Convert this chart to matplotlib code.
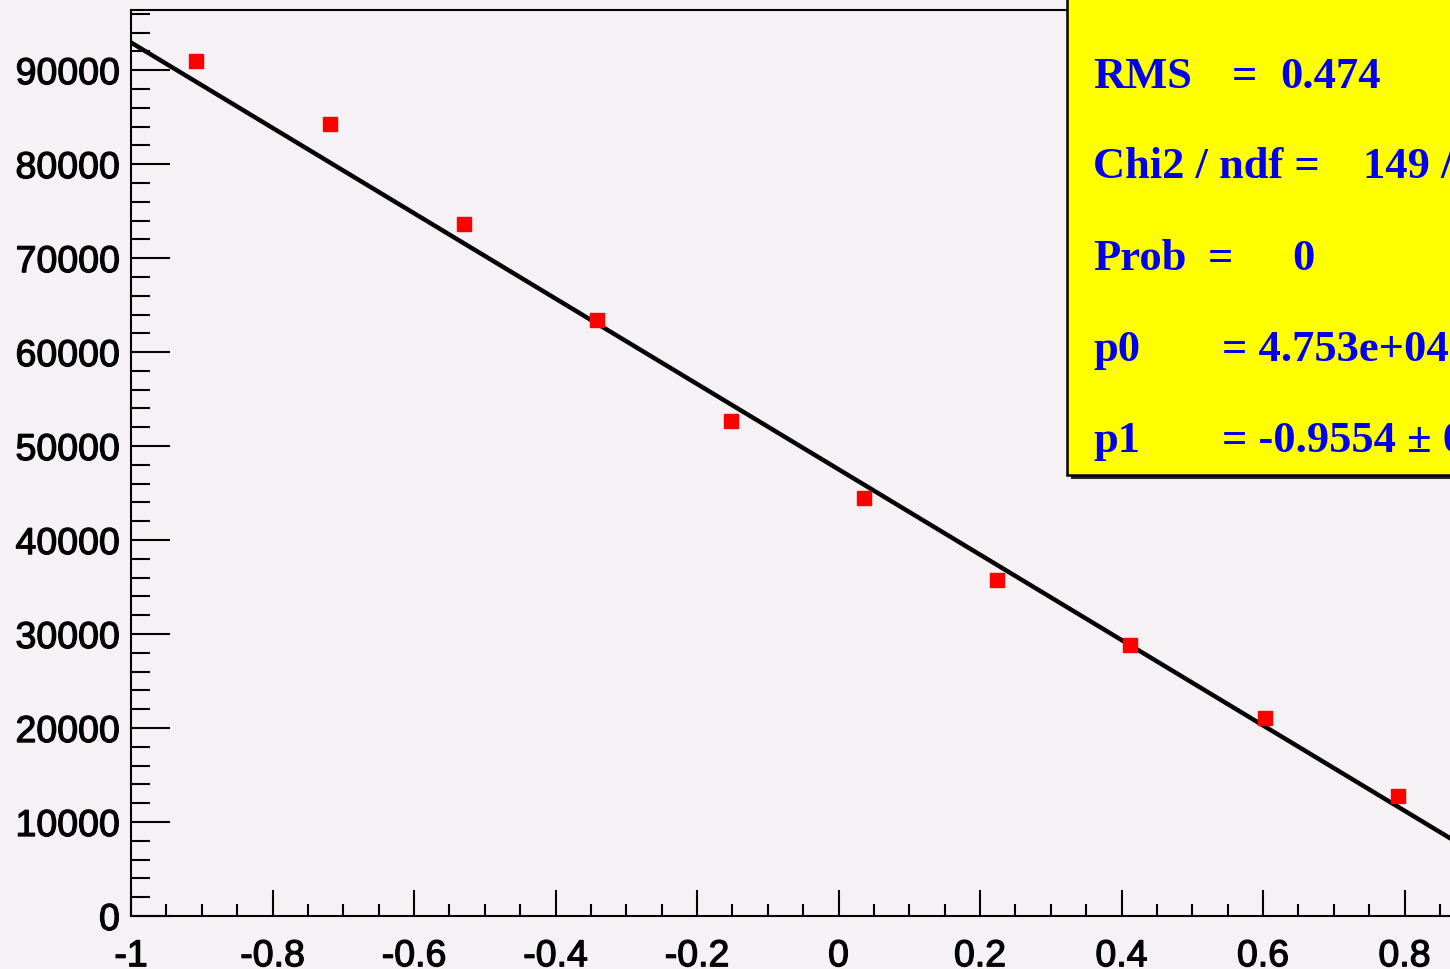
import numpy as np
import matplotlib
matplotlib.use("Agg")
import matplotlib.pyplot as plt
import matplotlib.patheffects as pe
from matplotlib.ticker import MultipleLocator, FuncFormatter
from matplotlib.patches import Rectangle

# bin centres and contents
x_vals = [-0.908, -0.719, -0.529, -0.341, -0.152, 0.036, 0.224, 0.412, 0.603, 0.791]
y_vals = [90950, 84250, 73600, 63400, 52650, 44450, 35750, 28850, 21050, 12750]
y_errs = [300, 290, 270, 250, 230, 210, 190, 170, 145, 113]

# fit results, f(x) = p0 * (1 + p1 * x)
p0 = 4.753e4
p1 = -0.9554
fit_x = [-1.0, 1.0]

stats_rows = [
    [("RMS", 1093), ("=", 1232), ("0.474", 1280)],
    [("Chi2 / ndf =", 1093), ("149 / 8", 1363)],
    [("Prob", 1093), ("=", 1208), ("0", 1292)],
    [("p0", 1093), ("= 4.753e+04 \u00b1 1.2e+02", 1222)],
    [("p1", 1093), ("= -0.9554 \u00b1 0.0031", 1222)],
]
stats_baselines = [88, 178, 270, 361, 452]

W, H = 1450, 969
bg = "#f5f1f4"

fig = plt.figure(figsize=(W / 100, H / 100), dpi=100, facecolor=bg)
ax = fig.add_axes([131 / W, 53 / H, 1415 / W, 906 / H], facecolor=bg)

fx = np.asarray(fit_x)
ax.plot(fx, p0 * (1 + p1 * fx), color="black", lw=3.2, zorder=2)
ax.errorbar(x_vals, y_vals, yerr=y_errs, fmt="s", color="red", ms=9.5,
            ecolor="black", elinewidth=1, capsize=0, zorder=3)

ax.set_xlim(-1, 1)
ax.set_ylim(0, 96400)

ax.xaxis.set_major_locator(MultipleLocator(0.2))
ax.xaxis.set_minor_locator(MultipleLocator(0.05))
ax.yaxis.set_major_locator(MultipleLocator(10000))
ax.yaxis.set_minor_locator(MultipleLocator(2000))
ax.xaxis.set_major_formatter(FuncFormatter(lambda v, p: "%g" % round(v, 3)))
ax.yaxis.set_major_formatter(FuncFormatter(lambda v, p: "%d" % round(v)))

ax.tick_params(which="both", direction="in", top=False, right=False, color="black")
ax.tick_params(axis="x", which="major", length=19, width=1.5, pad=16)
ax.tick_params(axis="x", which="minor", length=9, width=1.5)
ax.tick_params(axis="y", which="major", length=28, width=1.5, pad=8)
ax.tick_params(axis="y", which="minor", length=14, width=1.5)
for lab in ax.get_xticklabels() + ax.get_yticklabels():
    lab.set_fontfamily("Liberation Sans")
    lab.set_fontsize(27)
    lab.set_path_effects([pe.withStroke(linewidth=0.9, foreground="black")])
for s in ax.spines.values():
    s.set_linewidth(1.5)

# stats box, cut by the right and top edges like the original
shadow = Rectangle((1071 / W, (H - 479) / H), 500 / W, 600 / H,
                   transform=fig.transFigure, facecolor="#222222", edgecolor="none", zorder=5)
box = Rectangle((1067 / W, (H - 475) / H), 500 / W, 600 / H,
                transform=fig.transFigure, facecolor="#ffff00", edgecolor="black",
                lw=1.8, zorder=6)
fig.add_artist(shadow)
fig.add_artist(box)

for row, base in zip(stats_rows, stats_baselines):
    for txt, px in row:
        fig.text(px / W, (H - base) / H, txt, color="#0000ee", fontsize=32,
                 fontfamily="Liberation Serif", fontweight="bold",
                 ha="left", va="baseline", zorder=7)

fig.savefig("out.png", dpi=100, facecolor=bg)
